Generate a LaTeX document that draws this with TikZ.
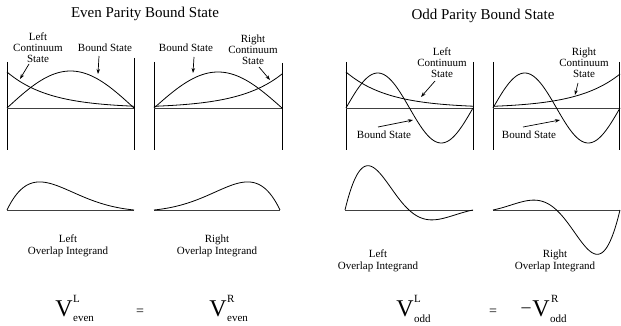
\documentclass[tikz,border=0pt]{standalone}
\usepackage{fontspec}
\setmainfont{Liberation Serif}
\usetikzlibrary{arrows.meta}
\begin{document}
\begin{tikzpicture}[x=1pt,y=-1pt,
 curve/.style={line width=0.8pt, black},
 frame/.style={line width=0.9pt, black},
 axis/.style={line width=0.9pt, black!75},
 arr/.style={line width=0.7pt, -{Stealth[length=5pt,width=3.5pt]}},
 lbl/.style={font=\fontsize{11}{11}\selectfont, align=center, inner sep=0pt},
 oil/.style={font=\fontsize{11}{12}\selectfont, align=center, inner sep=0pt},
 ttl/.style={font=\fontsize{15}{15}\selectfont, inner sep=0pt},
 bigV/.style={font=\fontsize{24}{24}\selectfont, inner sep=0pt},
 scr/.style={font=\fontsize{11}{11}\selectfont, inner sep=0pt},
 eqs/.style={font=\fontsize{14}{14}\selectfont, inner sep=0pt}]
\useasboundingbox (0,0) rectangle (621,326);
% titles
\node[ttl] (tE) at (145,14) {Even Parity Bound State};
\node[ttl] (tO) at (483,16) {Odd Parity Bound State};
% ===== even left panel
\draw[frame] (7,62) -- (7,150);
\draw[frame] (134,58) -- (134,150);
\draw[axis] (7,108) -- (134,108);
\draw[curve] plot[domain=7:134,samples=60,smooth] (\x,{108-37*sin((\x-7)/127*180)});
\draw[curve] plot[domain=7:134,samples=60,smooth] (\x,{108-36*exp(-3*(\x-7)/127)});
\node[lbl] (lcA) at (38,48) {Left\\Continuum\\State};
\node[lbl] (bsA) at (105,48) {Bound State};
\coordinate (lcAt) at (29,64); \coordinate (lcAh) at (20,79);
\coordinate (bsAt) at (99,56); \coordinate (bsAh) at (98,74);
\draw[arr] (lcAt) -- (lcAh);
\draw[arr] (bsAt) -- (bsAh);
% ===== even right panel
\draw[frame] (154,62) -- (154,150);
\draw[frame] (282,63) -- (282,150);
\draw[axis] (154,108) -- (282,108);
\draw[curve] plot[domain=154:282,samples=60,smooth] (\x,{108-36*sin((\x-154)/128*180)});
\draw[curve] plot[domain=154:282,samples=60,smooth] (\x,{108-34*exp(-3*(282-\x)/128)});
\node[lbl] (bsB) at (186,48) {Bound State};
\node[lbl] (rcB) at (253,50) {Right\\Continuum\\State};
\coordinate (bsBt) at (194,57); \coordinate (bsBh) at (193,73);
\coordinate (rcBt) at (259,67); \coordinate (rcBh) at (270,80);
\draw[arr] (bsBt) -- (bsBh);
\draw[arr] (rcBt) -- (rcBh);
% ===== odd left panel
\draw[frame] (346,62) -- (346,150);
\draw[frame] (473,62) -- (473,150);
\draw[axis] (346,108) -- (473,108);
\draw[curve] plot[domain=346:473,samples=90,smooth] (\x,{108-35*sin((\x-346)/127*360)});
\draw[curve] plot[domain=346:473,samples=60,smooth] (\x,{108-36*exp(-3*(\x-346)/127)});
\node[lbl] (lcC) at (442,63) {Left\\Continuum\\State};
\node[lbl] (bsC) at (384,135) {Bound State};
\coordinate (lcCt) at (435,81); \coordinate (lcCh) at (421,97);
\coordinate (bsCt) at (378,127); \coordinate (bsCh) at (413,120);
\draw[arr] (lcCt) -- (lcCh);
\draw[arr] (bsCt) -- (bsCh);
% ===== odd right panel
\draw[frame] (493,62) -- (493,150);
\draw[frame] (619.5,62) -- (619.5,150);
\draw[axis] (493,108) -- (620,108);
\draw[curve] plot[domain=493:620,samples=90,smooth] (\x,{108-35*sin((\x-493)/127*360)});
\draw[curve] plot[domain=493:620,samples=60,smooth] (\x,{108-34*exp(-3*(620-\x)/127)});
\node[lbl] (rcD) at (584,63) {Right\\Continuum\\State};
\node[lbl] (bsD) at (529,135) {Bound State};
\coordinate (rcDt) at (578,83); \coordinate (rcDh) at (575,95);
\coordinate (bsDt) at (523,127); \coordinate (bsDh) at (560,120);
\draw[arr] (rcDt) -- (rcDh);
\draw[arr] (bsDt) -- (bsDh);
% ===== integrands
\draw[axis] (7,210) -- (134,210);
\draw[curve] plot[domain=7:134,samples=80,smooth] (\x,{210-84*sin((\x-7)/127*180)*exp(-3*(\x-7)/127)});
\draw[axis] (154,210) -- (280,210);
\draw[curve] plot[domain=154:280,samples=80,smooth] (\x,{210-84*sin((\x-154)/126*180)*exp(-3*(280-\x)/126)});
\draw[axis] (345,210) -- (473,210);
\draw[curve] plot[domain=345:473,samples=100,smooth] (\x,{210-84*sin((\x-345)/128*360)*exp(-3*(\x-345)/128)});
\draw[axis] (493,210) -- (620,210);
\draw[curve] plot[domain=493:620,samples=100,smooth] (\x,{210-84*sin((\x-493)/127*360)*exp(-3*(620-\x)/127)});
\node[oil] (oiA) at (68,246) {Left\\Overlap Integrand};
\node[oil] (oiB) at (217,246) {Right\\Overlap Integrand};
\node[oil] (oiC) at (378,261) {Left\\Overlap Integrand};
\node[oil] (oiD) at (555,261) {Right\\Overlap Integrand};
% ===== equations
\node[bigV] (vA) at (64,308.5) {V};
\node[scr,anchor=west] (vAs) at (73,298.5) {L};
\node[scr,anchor=west] (vAb) at (73,318.5) {even};
\node[eqs] (eqA) at (140,312) {=};
\node[bigV] (vB) at (218,308.5) {V};
\node[scr,anchor=west] (vBs) at (227,298.5) {R};
\node[scr,anchor=west] (vBb) at (227,318.5) {even};
\node[bigV] (vC) at (405,308.5) {V};
\node[scr,anchor=west] (vCs) at (414,298.5) {L};
\node[scr,anchor=west] (vCb) at (414,318.5) {odd};
\node[eqs] (eqC) at (493,312) {=};
\node[eqs,font=\fontsize{18}{18}\selectfont] (mD) at (526,310) {–};
\node[bigV] (vD) at (541,308.5) {V};
\node[scr,anchor=west] (vDs) at (551,298.5) {R};
\node[scr,anchor=west] (vDb) at (550,318.5) {odd};
\end{tikzpicture}
\end{document}
